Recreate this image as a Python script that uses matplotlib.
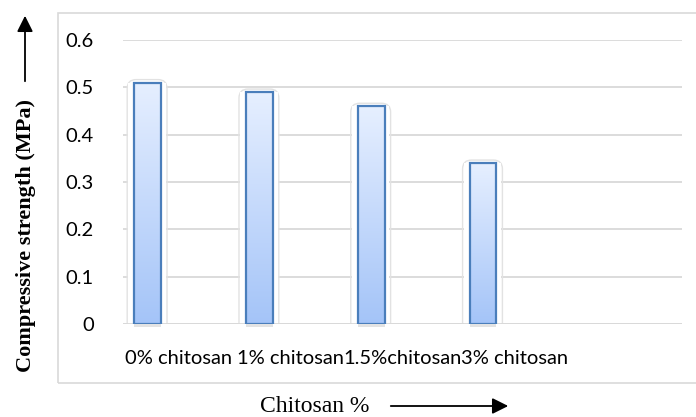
import numpy as np
import matplotlib
matplotlib.use("Agg")
import matplotlib.pyplot as plt
from matplotlib.patches import FancyBboxPatch, Rectangle, FancyArrowPatch
from matplotlib.colors import LinearSegmentedColormap

categories = ["0% chitosan", "1% chitosan", "1.5%chitosan", "3% chitosan", ""]
strength = [0.51, 0.49, 0.46, 0.34]
y_ticks = [0, 0.1, 0.2, 0.3, 0.4, 0.5, 0.6]
y_tick_labels = ["0", "0.1", "0.2", "0.3", "0.4", "0.5", "0.6"]

W, H = 696, 417
fig = plt.figure(figsize=(W / 100, H / 100), dpi=100)
fig.patch.set_facecolor("white")

# outer chart frame
frame = Rectangle((58 / W, 1 - 383 / H), 1.0, (383 - 13) / H, transform=fig.transFigure,
                  fill=False, edgecolor="#d9d9d9", linewidth=1.2)
fig.add_artist(frame)

left, right, top, bottom = 123, 682, 40, 324
ax = fig.add_axes([left / W, 1 - bottom / H, (right - left) / W, (bottom - top) / H])
ax.set_xlim(-0.5, len(categories) - 0.5)
ax.set_ylim(0, 0.6)
for s in ax.spines.values():
    s.set_visible(False)

for yv in y_ticks:
    ax.axhline(yv, color="#d9d9d9", linewidth=1.3, zorder=0)

font = "Lato"
ax.set_yticks(y_ticks)
ax.set_yticklabels(y_tick_labels, fontsize=14.5, family=font, color="#000000")
ax.tick_params(axis="y", length=0, pad=21)
ax.set_xticks(range(len(categories)))
ax.set_xticklabels(categories, fontsize=14.5, family=font)
ax.tick_params(axis="x", length=0, pad=19)

cmap = LinearSegmentedColormap.from_list("barfill", ["#a4c4f8", "#e6efff"])
grad = np.linspace(0, 1, 256).reshape(-1, 1)
bw = 0.24
off = -0.28
px_x = (right - left) / len(categories)
px_y = (bottom - top) / 0.6
for i, v in enumerate(strength):
    x0 = i + off - bw / 2
    # soft frame around each bar
    gl = x0 - 7 / px_x
    gr = x0 + bw + 6 / px_x
    glow = FancyBboxPatch((gl, -0.05), gr - gl, v + 3 / px_y + 0.05,
                          boxstyle="round,pad=0,rounding_size=0.08",
                          mutation_aspect=px_x / px_y,
                          fill=False, edgecolor="#e2e2e2", linewidth=1.0, zorder=1)
    ax.add_patch(glow)
    ax.add_patch(Rectangle((gl + 0.01, 0), gr - gl - 0.02, v, facecolor="white",
                           edgecolor="none", zorder=1.5))
    # shadow beneath the bar
    ax.add_patch(Rectangle((x0, -3 / px_y), bw, 3 / px_y, facecolor="#c8c8c8",
                           edgecolor="none", alpha=0.5, clip_on=False, zorder=1.6))
    ax.imshow(grad, cmap=cmap, origin="lower", aspect="auto",
              extent=[x0, x0 + bw, 0, v], zorder=2)
    ax.add_patch(Rectangle((x0, 0), bw, v, fill=False, edgecolor="#4a7ebb",
                           linewidth=1.6, zorder=3))
ax.axhline(0, color="#d9d9d9", linewidth=1.3, zorder=1.7)
ax.set_xlim(-0.5, len(categories) - 0.5)
ax.set_ylim(0, 0.6)

# axis titles with arrows
fig.text(26 / W, 1 - 236 / H, "Compressive strength (MPa)", rotation=90,
         ha="center", va="center", fontsize=16, fontweight="bold",
         family="Liberation Serif")
fig.add_artist(FancyArrowPatch((25 / W, 1 - 84 / H), (25 / W, 1 - 13 / H),
                               transform=fig.transFigure, arrowstyle="-|>",
                               mutation_scale=24, color="black", linewidth=1.3))
fig.text(315 / W, 1 - 406 / H, "Chitosan %", ha="center", va="center",
         fontsize=17, family="Liberation Serif")
fig.add_artist(FancyArrowPatch((388 / W, 1 - 406 / H), (511 / W, 1 - 406 / H),
                               transform=fig.transFigure, arrowstyle="-|>",
                               mutation_scale=24, color="black", linewidth=1.3))

fig.savefig("out.png", dpi=100, facecolor="white")
